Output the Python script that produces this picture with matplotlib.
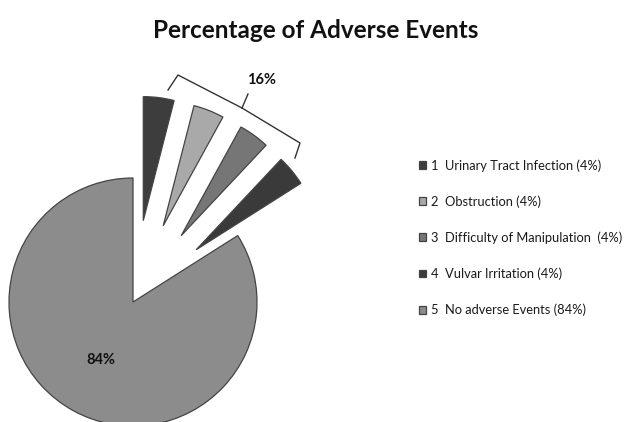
import matplotlib.pyplot as plt

# data
numbers = ["1", "2", "3", "4", "5"]
events = ["Urinary Tract Infection (4%)", "Obstruction (4%)",
          "Difficulty of Manipulation  (4%)", "Vulvar Irritation (4%)",
          "No adverse Events (84%)"]
shares = [4, 4, 4, 4, 84]
group_label = "16%"

colors = ["#3d3d3d", "#a9a9a9", "#767676", "#3a3a3a", "#8c8c8c"]

plt.rcParams['font.family'] = ['Lato', 'DejaVu Sans']

fig = plt.figure(figsize=(6.35, 4.22), dpi=100)
# axes over the whole figure, data units = pixels (y up)
ax = fig.add_axes([0, 0, 1, 1])

wedges, texts, autotexts = ax.pie(
    shares, colors=colors, startangle=90, counterclock=False,
    center=(133, 120), radius=124, explode=[82, 82, 82, 82, 0],
    autopct=lambda p: "%d%%" % round(p) if p > 50 else "",
    pctdistance=0.53,
    wedgeprops=dict(edgecolor="#444444", linewidth=0.9),
    textprops=dict(fontsize=10.5, fontweight="bold", color="#111111"))

ax.set_xlim(0, 635)
ax.set_ylim(0, 422)
ax.set_aspect('equal')
ax.axis('off')

# bracket over the small slices
ax.plot([168, 178, 242], [422 - 90, 422 - 75, 422 - 108], color="#333333", lw=1)
ax.plot([242, 300, 295], [422 - 108, 422 - 143, 422 - 158], color="#333333", lw=1)
ax.plot([242, 248], [422 - 108, 422 - 94], color="#333333", lw=1)
ax.text(262, 422 - 80, group_label, ha="center", va="center",
        fontsize=10.5, fontweight="bold", color="#111111")

ax.text(316, 422 - 31, "Percentage of Adverse Events", ha="center", va="center",
        fontsize=17.5, fontweight="bold", color="#111111")

labels = [n + "  " + e for n, e in zip(numbers, events)]
ax.legend(wedges, labels, loc="upper left", bbox_to_anchor=(419 / 635, (422 - 159) / 422),
          frameon=False, borderpad=0, borderaxespad=0, handlelength=0.55,
          handleheight=0.55, handletextpad=0.35, labelspacing=1.83,
          prop=dict(size=9.3), labelcolor="#1a1a1a")

plt.savefig("out.png", dpi=100)
